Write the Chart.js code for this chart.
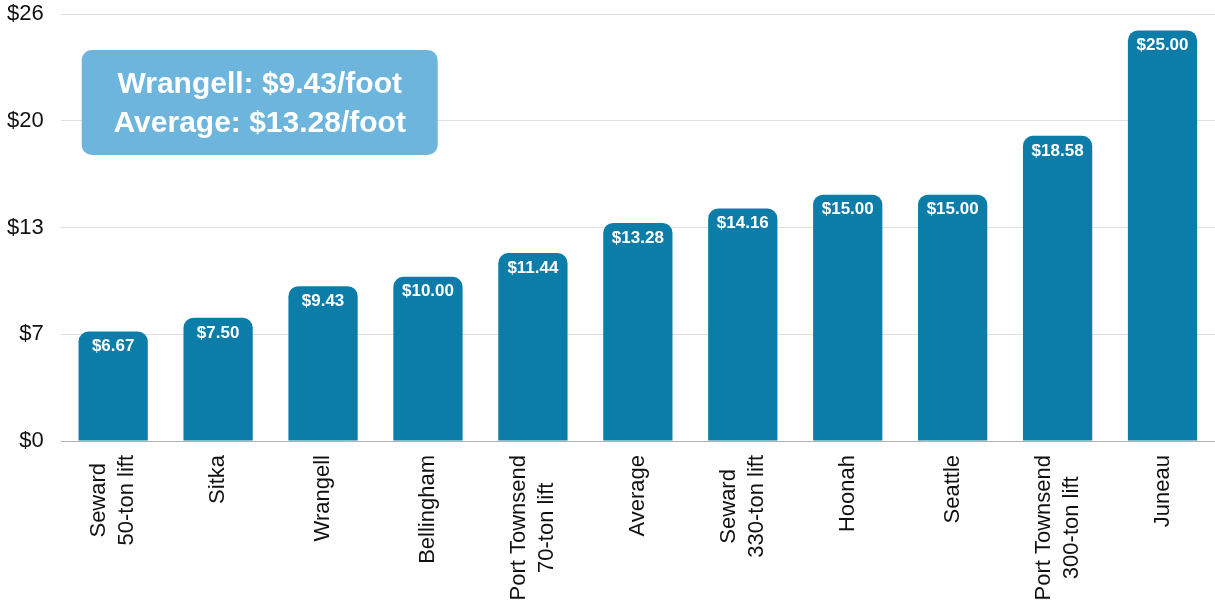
<!DOCTYPE html>
<html>
<head>
<meta charset="utf-8">
<script src="https://cdn.jsdelivr.net/npm/chart.js@4/dist/chart.umd.min.js"></script>
<style>
  html, body { margin: 0; padding: 0; background: #ffffff; }
  #wrap { width: 1215px; height: 616px; position: relative; }
</style>
</head>
<body>
<div id="wrap"><canvas id="chart"></canvas></div>
<script>
// data
const categories = [
    ["Seward", "50-ton lift"],
    "Sitka",
    "Wrangell",
    "Bellingham",
    ["Port Townsend", "70-ton lift"],
    "Average",
    ["Seward", "330-ton lift"],
    "Hoonah",
    "Seattle",
    ["Port Townsend", "300-ton lift"],
    "Juneau",
];
const pricePerFoot = [6.67, 7.5, 9.43, 10.0, 11.44, 13.28, 14.16, 15.0, 15.0, 18.58, 25.0];
const yTickMax = 26;
const yTickStep = 6.5;
const calloutLines = ["Wrangell: $9.43/foot", "Average: $13.28/foot"];

const FONT = '"Liberation Sans", Arial, Helvetica, sans-serif';
const BAR_COLOR = "#0c7ca9";
const CALLOUT_COLOR = "#6db5dd";

// white value labels just inside the top of each bar
const valueLabels = {
    id: "valueLabels",
    afterDatasetsDraw(chart) {
        const ctx = chart.ctx;
        const meta = chart.getDatasetMeta(0);
        ctx.save();
        ctx.font = "bold 17px " + FONT;
        ctx.fillStyle = "#ffffff";
        ctx.textAlign = "center";
        ctx.textBaseline = "middle";
        meta.data.forEach((bar, i) => {
            ctx.fillText("$" + pricePerFoot[i].toFixed(2), bar.x, bar.y + 15);
        });
        ctx.restore();
    },
};

// rotated category labels, lines centred on each other
const xLabels = {
    id: "xLabels",
    afterDraw(chart) {
        const ctx = chart.ctx;
        const xs = chart.scales.x;
        ctx.save();
        ctx.font = "22px " + FONT;
        ctx.fillStyle = "#111111";
        ctx.textAlign = "center";
        ctx.textBaseline = "middle";
        categories.forEach((lab, i) => {
            const lines = Array.isArray(lab) ? lab : [lab];
            const w = Math.max(...lines.map((l) => ctx.measureText(l).width));
            ctx.save();
            ctx.translate(xs.getPixelForTick(i), xs.top + 14);
            ctx.rotate(-Math.PI / 2);
            lines.forEach((l, j) => {
                ctx.fillText(l, -w / 2, (j - (lines.length - 1) / 2) * 28);
            });
            ctx.restore();
        });
        ctx.restore();
    },
};

// rounded callout box in the top left of the plot
const callout = {
    id: "callout",
    afterDraw(chart) {
        const ctx = chart.ctx;
        const area = chart.chartArea;
        const x = area.left + 21;
        const y = area.top + 36;
        const w = 356;
        const h = 105;
        ctx.save();
        ctx.fillStyle = CALLOUT_COLOR;
        ctx.beginPath();
        ctx.roundRect(x, y, w, h, 10);
        ctx.fill();
        ctx.font = "bold 30px " + FONT;
        ctx.fillStyle = "#ffffff";
        ctx.textAlign = "center";
        ctx.textBaseline = "middle";
        calloutLines.forEach((line, i) => {
            ctx.fillText(line, x + w / 2, y + 35 + i * 39);
        });
        ctx.restore();
    },
};

new Chart(document.getElementById("chart"), {
    type: "bar",
    data: {
        labels: categories,
        datasets: [
            {
                data: pricePerFoot,
                backgroundColor: BAR_COLOR,
                borderRadius: 10,
                borderSkipped: "start",
                barPercentage: 0.66,
                categoryPercentage: 1,
            },
        ],
    },
    options: {
        responsive: true,
        maintainAspectRatio: false,
        animation: false,
        layout: { padding: { left: 7, top: 14, right: 0, bottom: 0 } },
        plugins: {
            legend: { display: false },
            tooltip: { enabled: false },
        },
        scales: {
            x: {
                grid: { display: false },
                border: { display: false },
                ticks: { display: false },
                afterFit(scale) {
                    scale.height = 175;
                },
            },
            y: {
                min: 0,
                max: yTickMax,
                border: { display: false },
                grid: {
                    drawTicks: true,
                    tickLength: 17,
                    tickColor: "transparent",
                    color: (c) => (c.tick && c.tick.value === 0 ? "#b0b0b0" : "#e0e0e0"),
                    lineWidth: 1,
                },
                ticks: {
                    stepSize: yTickStep,
                    padding: 0,
                    color: "#111111",
                    font: { family: FONT, size: 22 },
                    callback: (v) => "$" + Math.round(v),
                },
            },
        },
    },
    plugins: [valueLabels, xLabels, callout],
});
</script>
</body>
</html>
